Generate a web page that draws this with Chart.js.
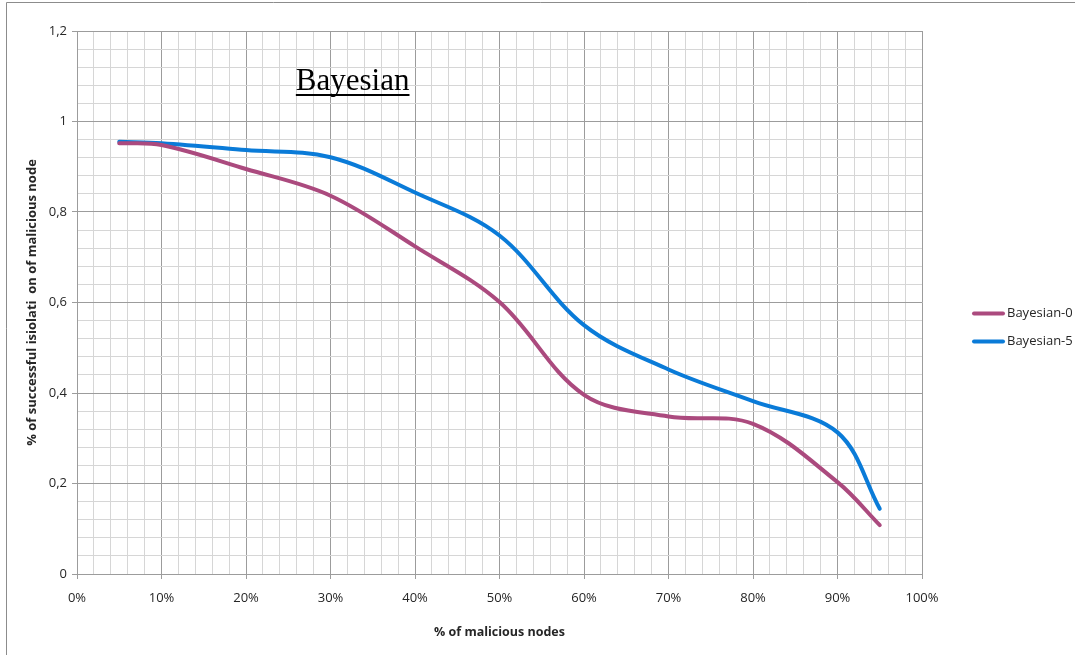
<!DOCTYPE html>
<html>
<head>
<meta charset="utf-8">
<script src="https://cdn.jsdelivr.net/npm/chart.js@4/dist/chart.umd.min.js"></script>
<style>
  html, body { margin: 0; padding: 0; background: #ffffff; }
  canvas { display: block; }
</style>
</head>
<body>
<canvas id="chart" width="1075" height="655"></canvas>
<script>
// Share of malicious nodes in the network (%)
const maliciousPct = [5, 10, 20, 30, 40, 50, 60, 70, 80, 90, 95];
// Fraction of malicious nodes successfully isolated
const bayesian0 = [0.952, 0.948, 0.895, 0.836, 0.724, 0.601, 0.396, 0.348, 0.332, 0.203, 0.108];
const bayesian5 = [0.955, 0.952, 0.937, 0.921, 0.843, 0.748, 0.550, 0.452, 0.382, 0.313, 0.144];
const seriesNames = ['Bayesian-0', 'Bayesian-5'];
const chartTitle = 'Bayesian';
const xTitle = '% of malicious nodes';
const yTitle = '% of successful isiolati  on of malicious node';

const MAJOR = '#9c9c9c';
const MINOR = '#d6d6d6';
const TEXT = '#262626';
const FONT = '"Open Sans", "DejaVu Sans", sans-serif';

const isMultiple = (v, step) => Math.abs(v / step - Math.round(v / step)) < 1e-6;

function toPoints(xs, ys) {
  return xs.map((x, i) => ({ x: x, y: ys[i] }));
}

// Frame, chart title and legend drawn around the plot
const decorations = {
  id: 'decorations',
  beforeDraw(chart) {
    const ctx = chart.ctx;
    ctx.save();
    ctx.fillStyle = '#ffffff';
    ctx.fillRect(0, 0, chart.width, chart.height);
    ctx.strokeStyle = '#8c8c8c';
    ctx.lineWidth = 1;
    ctx.beginPath();
    ctx.moveTo(6.5, chart.height);
    ctx.lineTo(6.5, 2.5);
    ctx.lineTo(chart.width, 2.5);
    ctx.stroke();
    ctx.restore();
  },
  afterDraw(chart) {
    const ctx = chart.ctx;
    const area = chart.chartArea;
    ctx.save();

    // Title with underline
    ctx.font = '31px "Liberation Serif", "DejaVu Serif", serif';
    ctx.fillStyle = '#000000';
    ctx.textBaseline = 'alphabetic';
    ctx.textAlign = 'left';
    const tx = area.left + (area.right - area.left) * 0.259;
    const ty = area.top + 59;
    ctx.fillText(chartTitle, tx, ty);
    const tw = ctx.measureText(chartTitle).width;
    ctx.fillRect(tx, ty + 4, tw, 2);

    // Legend
    ctx.font = '13px ' + FONT;
    ctx.textBaseline = 'middle';
    const lx = area.right + 50;
    const midY = chart.height / 2;
    chart.data.datasets.forEach((ds, i) => {
      const y = midY - 14 + i * 28;
      ctx.strokeStyle = ds.borderColor;
      ctx.lineWidth = 4;
      ctx.lineCap = 'round';
      ctx.beginPath();
      ctx.moveTo(lx + 2, y);
      ctx.lineTo(lx + 31, y);
      ctx.stroke();
      ctx.fillStyle = TEXT;
      ctx.fillText(ds.label, lx + 35, y);
    });
    ctx.restore();
  }
};

new Chart(document.getElementById('chart'), {
  type: 'line',
  data: {
    datasets: [
      {
        label: seriesNames[0],
        data: toPoints(maliciousPct, bayesian0),
        borderColor: '#ab4a7e',
        borderWidth: 4,
        borderCapStyle: 'round',
        pointRadius: 0,
        tension: 0.35,
        fill: false
      },
      {
        label: seriesNames[1],
        data: toPoints(maliciousPct, bayesian5),
        borderColor: '#0a7bd8',
        borderWidth: 4,
        borderCapStyle: 'round',
        pointRadius: 0,
        tension: 0.35,
        fill: false
      }
    ]
  },
  options: {
    responsive: false,
    devicePixelRatio: 1,
    animation: false,
    layout: { padding: { left: 0, top: 31, right: 153, bottom: 0 } },
    plugins: {
      legend: { display: false },
      title: { display: false },
      tooltip: { enabled: false }
    },
    scales: {
      x: {
        type: 'linear',
        min: 0,
        max: 100,
        afterFit(scale) { scale.height = 81; },
        ticks: {
          stepSize: 2,
          autoSkip: false,
          maxRotation: 0,
          padding: 11,
          color: TEXT,
          font: { family: FONT, size: 13 },
          callback: (v) => isMultiple(v, 10) ? v + '%' : ''
        },
        grid: {
          color: (c) => isMultiple(c.tick.value, 10) ? MAJOR : MINOR,
          tickColor: (c) => isMultiple(c.tick.value, 10) ? MAJOR : 'rgba(0,0,0,0)',
          tickLength: 5,
          lineWidth: 1
        },
        border: { color: MAJOR },
        title: {
          display: true,
          text: xTitle,
          color: TEXT,
          font: { family: FONT, size: 12.5, weight: 'bold' },
          padding: { top: 0, bottom: 15 }
        }
      },
      y: {
        type: 'linear',
        min: 0,
        max: 1.2,
        afterFit(scale) { scale.width = 77; },
        ticks: {
          stepSize: 0.04,
          autoSkip: false,
          padding: 5,
          color: TEXT,
          font: { family: FONT, size: 13 },
          callback: (v) => isMultiple(v, 0.2) ? String(Math.round(v * 10) / 10).replace('.', ',') : ''
        },
        grid: {
          color: (c) => isMultiple(c.tick.value, 0.2) ? MAJOR : MINOR,
          tickColor: (c) => isMultiple(c.tick.value, 0.2) ? MAJOR : 'rgba(0,0,0,0)',
          tickLength: 5,
          lineWidth: 1
        },
        border: { color: MAJOR },
        title: {
          display: true,
          text: yTitle,
          color: TEXT,
          font: { family: FONT, size: 13, weight: 'bold' },
          padding: { top: 24, bottom: 0 }
        }
      }
    }
  },
  plugins: [decorations]
});
</script>
</body>
</html>
